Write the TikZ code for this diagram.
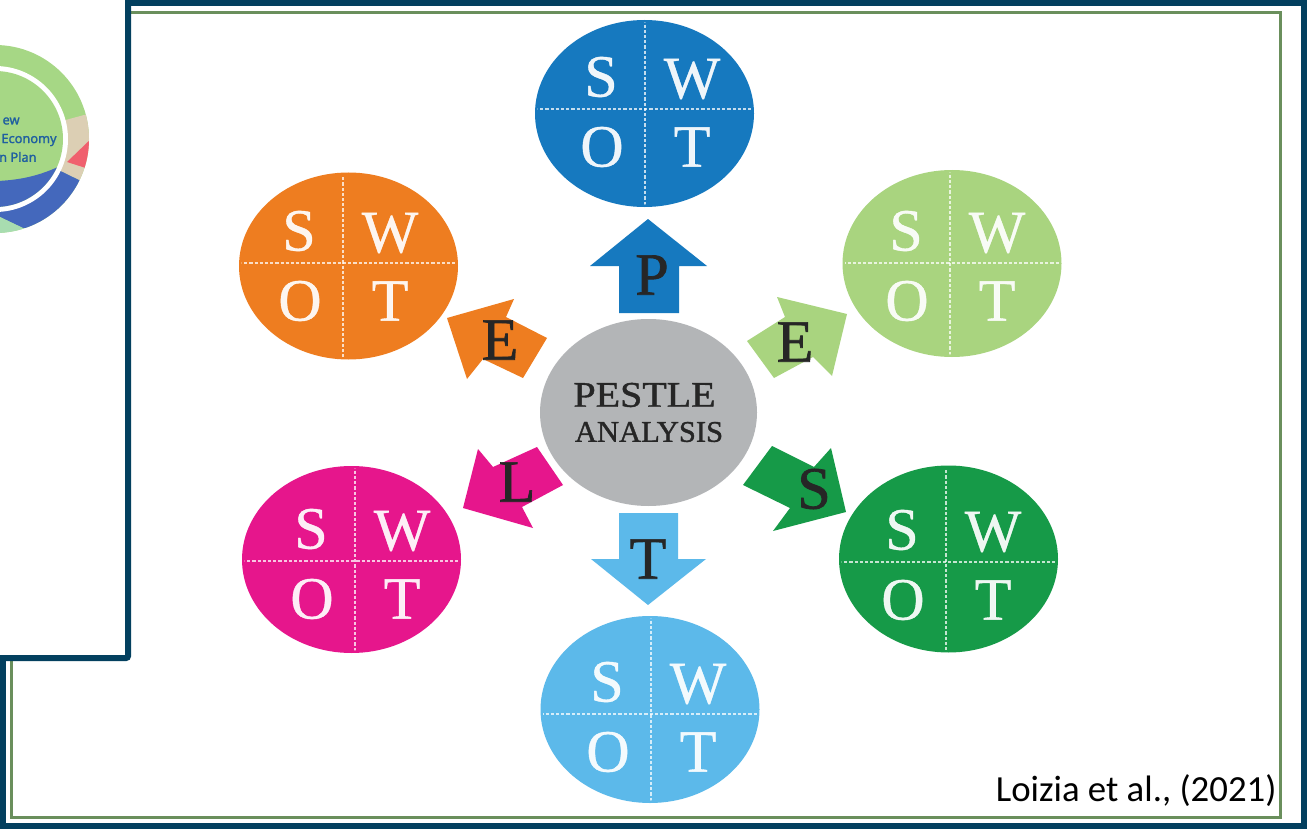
\documentclass[tikz,border=0pt]{standalone}
\usepackage{fontspec}
\setmainfont{Liberation Serif}
\newfontfamily\citefont{Carlito}
\newfontfamily\badgefont[FakeBold=1.5]{Noto Sans}
\newfontfamily\heavyserif[FakeBold=1.2]{Liberation Serif}
\newfontfamily\midserif[FakeBold=0.6]{Liberation Serif}
\definecolor{navy}{HTML}{03405F}
\definecolor{framegreen}{HTML}{6A8F5C}
\definecolor{cblue}{HTML}{1679BF}
\definecolor{corange}{HTML}{EE7D20}
\definecolor{clgreen}{HTML}{A9D47F}
\definecolor{cmag}{HTML}{E6168C}
\definecolor{cdgreen}{HTML}{169A48}
\definecolor{clblue}{HTML}{5CB9EA}
\definecolor{cgray}{HTML}{B3B5B7}
\definecolor{inkdark}{HTML}{262626}
\definecolor{ringgreen}{HTML}{A6D785}
\definecolor{ringbeige}{HTML}{DCCFB4}
\definecolor{ringred}{HTML}{F0606E}
\definecolor{ringblue}{HTML}{4468BC}
\definecolor{ringmint}{HTML}{A8DDB0}
\definecolor{badgeink}{HTML}{1F5FA0}
\tikzset{
  x=0.5pt,y=-0.5pt,
  swotlet/.style={text=white,font=\midserif\fontsize{30}{30}\selectfont,inner sep=0pt,opacity=.93},
  swotline/.style={white,line width=0.9pt,dash pattern=on 1.6pt off 1pt,opacity=.75},
  arrowlet/.style={text=inkdark,font=\heavyserif\fontsize{30}{30}\selectfont,inner sep=0pt},
  badgetext/.style={text=badgeink,anchor=east,inner sep=0pt,font=\badgefont\fontsize{6.4}{6.4}\selectfont},
}
% #1 name, #2 cx, #3 cy, #4 colour, #5 cross x, #6 cross y
\newcommand{\swotdisc}[6]{%
  \fill[#4] (#2,#3) ellipse [x radius=54.75pt,y radius=46.75pt];
  \begin{scope}
    \clip (#2,#3) ellipse [x radius=53.5pt,y radius=45.5pt];
    \draw[swotline] (#5,#3-120) -- (#5,#3+120);
    \draw[swotline] (#2-120,#6) -- (#2+120,#6);
  \end{scope}
  \node[swotlet] (#1S) at (#5-44,#6-32) {S};
  \node[swotlet] (#1W) at (#5+47,#6-30) {W};
  \node[swotlet] (#1O) at (#5-43,#6+38) {O};
  \node[swotlet] (#1T) at (#5+47,#6+38) {T};
}
\begin{document}
\begin{tikzpicture}
\useasboundingbox (0,0) rectangle (1307,829);
\fill[white] (0,0) rectangle (1307,829);
% frames
\draw[framegreen,line width=1.5pt] (11.5,12.5) rectangle (1280,817);
\draw[navy,line width=3pt] (3,3) rectangle (1304,826);
% discs
\swotdisc{top}{644.5}{113.5}{cblue}{645}{109}
\swotdisc{lefta}{348.5}{266}{corange}{343}{263}
\swotdisc{righta}{952}{263.5}{clgreen}{950}{263}
\swotdisc{leftb}{351.5}{559.5}{cmag}{355}{561}
\swotdisc{rightb}{948.5}{559}{cdgreen}{946}{562}
\swotdisc{bot}{650}{709.5}{clblue}{651}{714}
% centre
\fill[cgray] (648.5,412.5) ellipse [x radius=54.25pt,y radius=46.75pt];
\node[text=inkdark,font=\heavyserif\fontsize{18}{18}\selectfont,inner sep=0pt,xscale=1.11] (pestle) at (644.5,395) {PESTLE};
\node[text=inkdark,font=\heavyserif\fontsize{15}{15}\selectfont,inner sep=0pt,xscale=1.02] (analysis) at (649,432) {ANALYSIS};
% arrows
\fill[cblue] (648,219) -- (707,266) -- (679,266) -- (679,313) -- (619,313) -- (619,266) -- (590,266) -- cycle;
\fill[clblue] (619,513) -- (678,513) -- (678,559) -- (706,559) -- (648,605) -- (591,559) -- (619,559) -- cycle;
\fill[corange] (447,318) -- (514,299) -- (506,317) -- (547,338) -- (523,378) -- (483,359) -- (467,379) -- cycle;
\fill[clgreen] (847,314) -- (777,297) -- (785,317) -- (747,341) -- (774,378) -- (813,357) -- (832,376) -- cycle;
\fill[cmag] (463,508) -- (478,449) -- (493,467) -- (537,447) -- (563,485) -- (522,507) -- (533,528) -- cycle;
\fill[cdgreen] (846,512) -- (831,448) -- (814,467) -- (772,446) -- (743,485) -- (790,508) -- (773,531) -- cycle;
\node[arrowlet] (lP) at (652,275) {P};
\node[arrowlet] (lEa) at (500,340) {E};
\node[arrowlet] (lEb) at (795,342) {E};
\node[arrowlet] (lL) at (517,482) {L};
\node[arrowlet] (lS) at (814,489) {S};
\node[arrowlet] (lT) at (648,559) {T};
% citation
\node[anchor=base east,inner sep=0pt,text=black,font=\citefont\fontsize{18.4}{18.4}\selectfont] (cite) at (1277,801) {Loizia et al., (2021)};
% inset
\fill[white,draw=navy,line width=3pt,rounded corners=1pt] (-10,-10) rectangle (128,658);
\begin{scope}
  \clip (0,0) rectangle (125,655);
  \begin{scope}
    \clip (-5,139) circle [radius=47pt];
    \fill[ringgreen] (-100,30) rectangle (100,250);
    \fill[ringbeige] (-5,139) -- (188,87) -- (195,139) -- (186,197) -- (175,227) -- cycle;
    \fill[ringred] (67,162) -- (95,135) -- (92,170) -- cycle;
    \fill[ringblue] (-5,139) -- (175,227) -- (23,228) -- (0,217) -- cycle;
    \fill[ringmint] (0,217) -- (23,228) -- (23,250) -- (0,250) -- cycle;
  \end{scope}
  \fill[white] (-5,139) circle [radius=36.5pt];
  \begin{scope}
    \clip (-5,139) circle [radius=34pt];
    \fill[ringgreen] (-100,30) rectangle (100,250);
    \fill[ringblue] (-20,181) .. controls (10,182) and (35,178) .. (60,166) -- (80,250) -- (-20,250) -- cycle;
  \end{scope}
\end{scope}
\node[badgetext] (bnew) at (20,121) {ew};
\node[badgetext] (becon) at (57,140) {Economy};
\node[badgetext] (bplan) at (37,157) {n Plan};
\end{tikzpicture}
\end{document}
